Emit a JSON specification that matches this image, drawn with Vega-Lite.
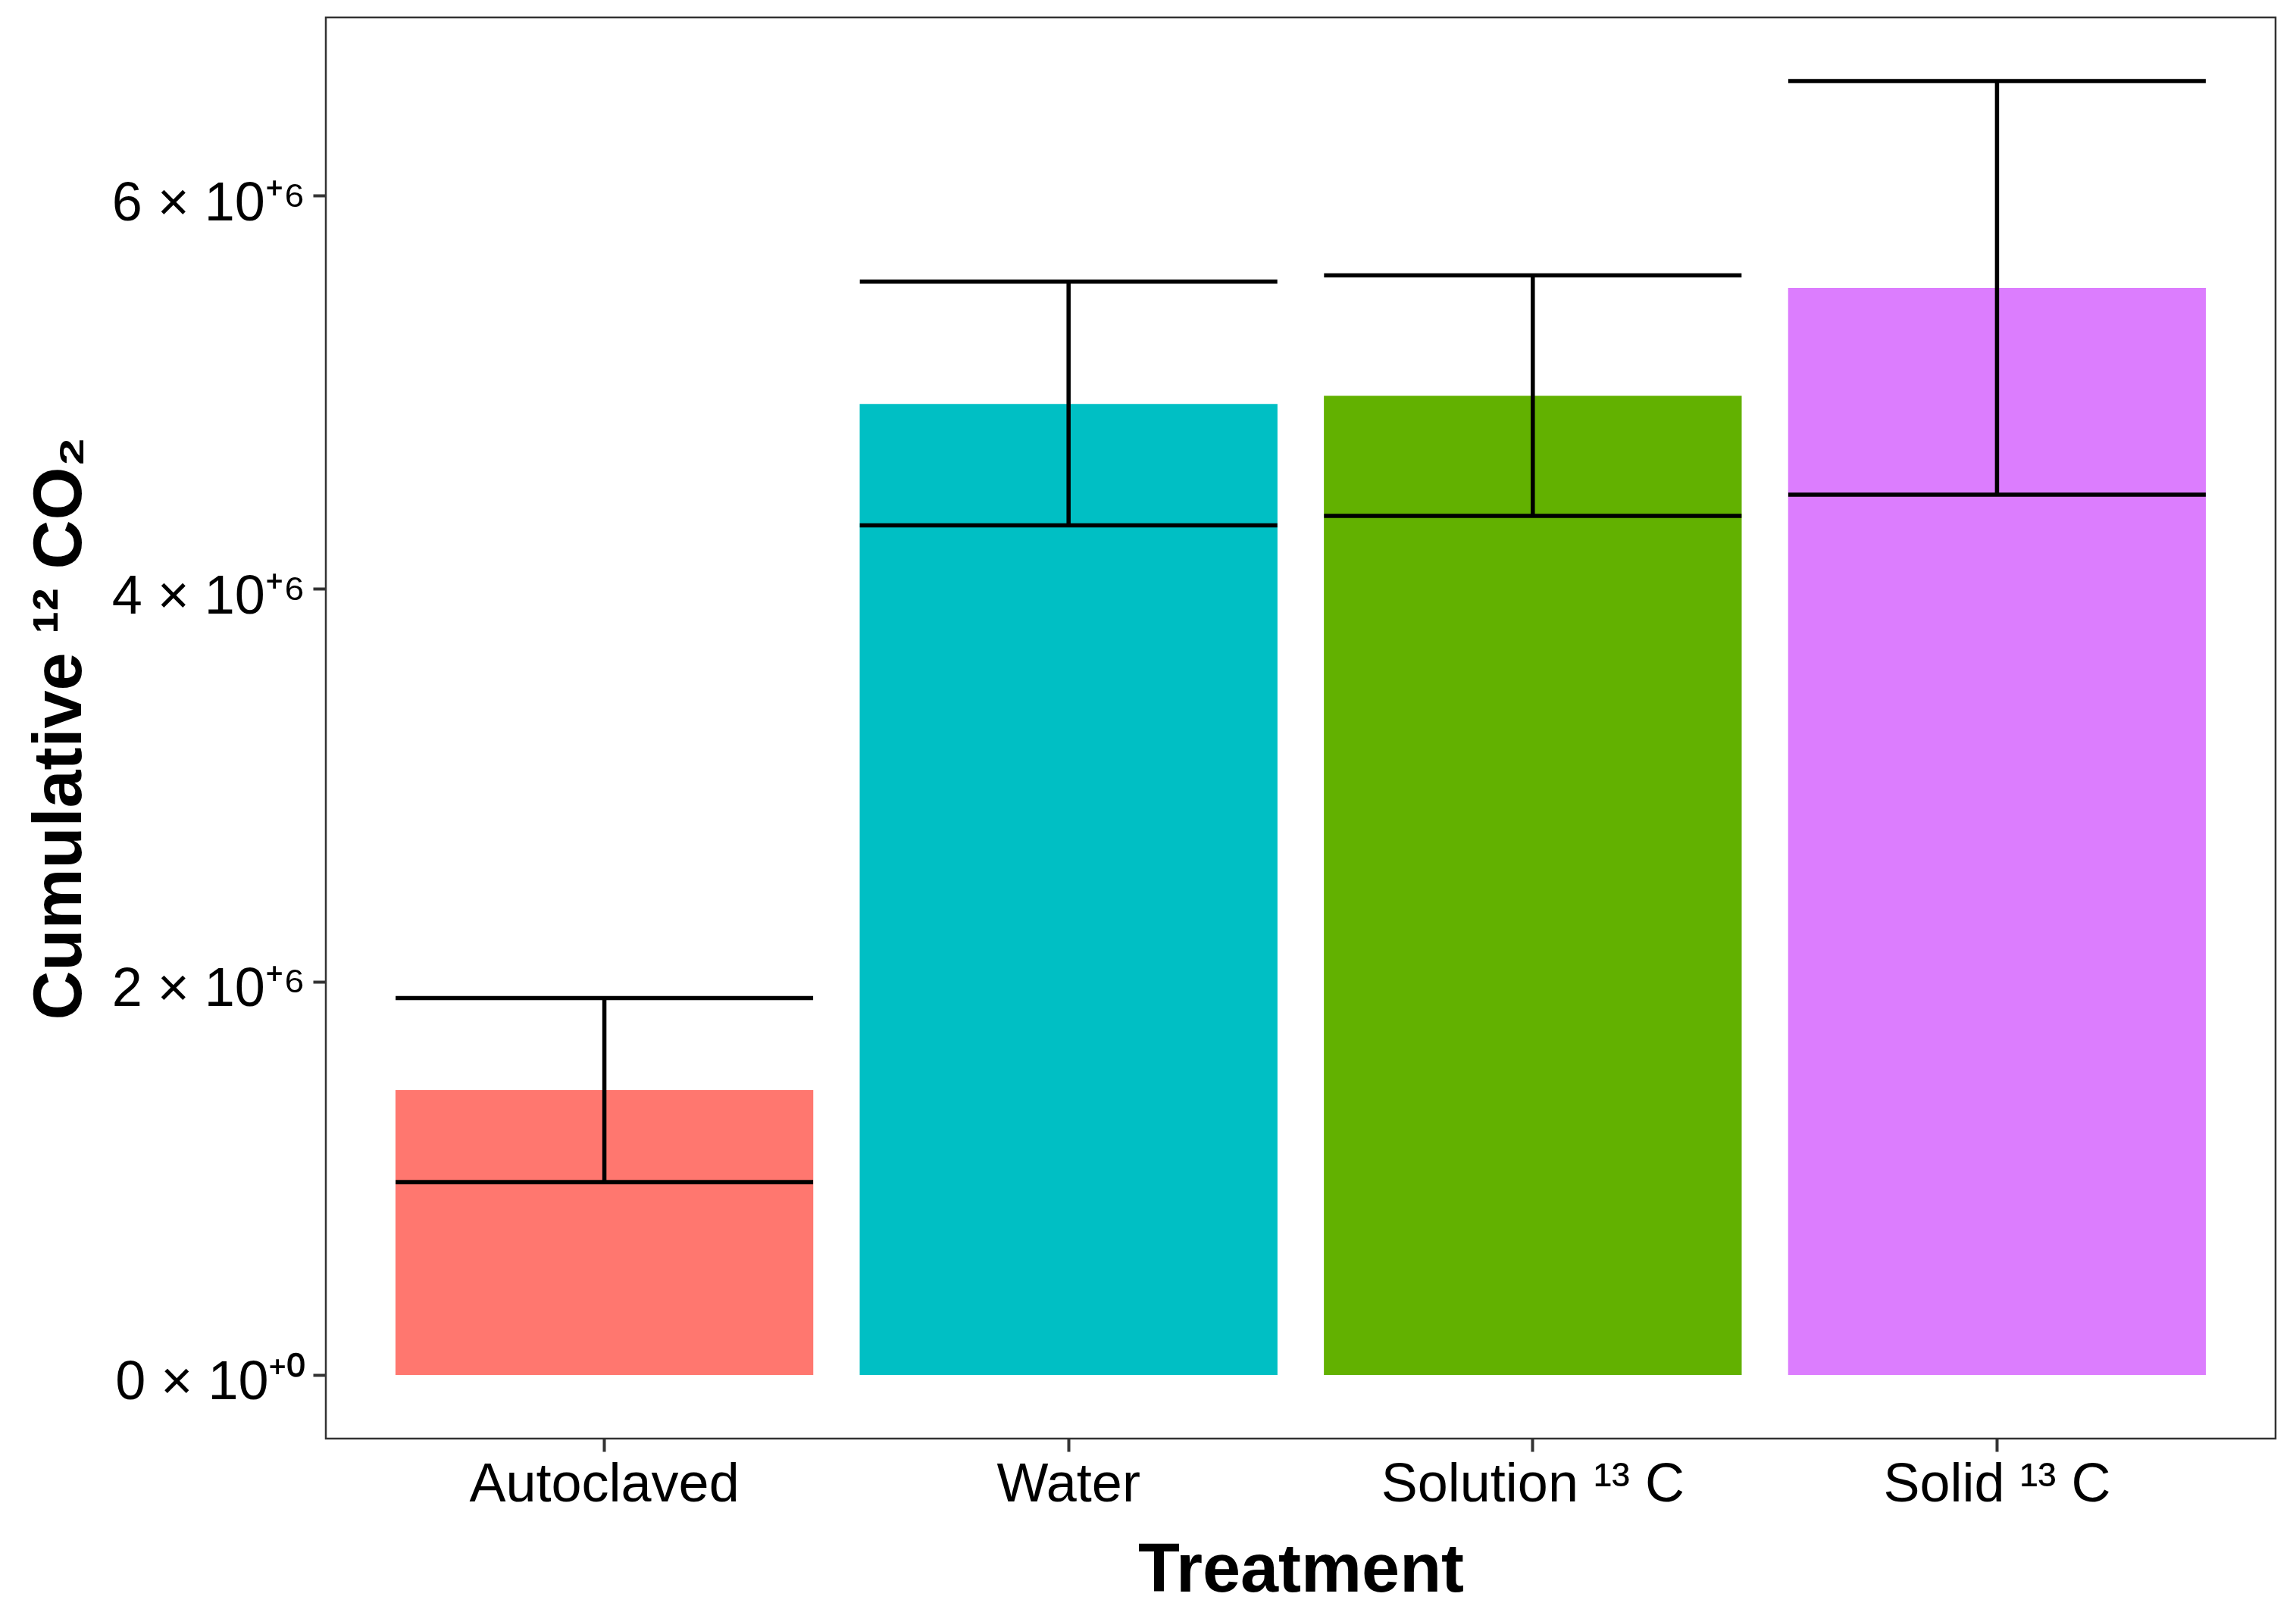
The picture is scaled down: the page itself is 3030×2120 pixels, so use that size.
{
  "$schema": "https://vega.github.io/schema/vega-lite/v6.json",
  "autosize": "none",
  "padding": {"left": 430, "top": 23, "right": 27, "bottom": 221},
  "width": 2573,
  "height": 1876,
  "background": "white",
  "config": {
    "view": {"stroke": "#333333", "strokeWidth": 2.5},
    "axis": {
      "labelFont": "Liberation Sans",
      "titleFont": "Liberation Sans",
      "labelColor": "#000000",
      "titleColor": "#000000",
      "labelFontSize": 72,
      "titleFontSize": 90,
      "titleFontWeight": "bold",
      "tickColor": "#333333",
      "tickWidth": 4,
      "tickSize": 17,
      "labelLimit": 0,
      "grid": false,
      "domain": false
    }
  },
  "data": {
    "values": [
      {"treatment": "Autoclaved", "mean": 1449000, "lower": 981000, "upper": 1917000},
      {"treatment": "Water", "mean": 4940000, "lower": 4322000, "upper": 5562000},
      {"treatment": "Solution ¹³ C", "mean": 4981000, "lower": 4370000, "upper": 5594000},
      {"treatment": "Solid ¹³ C", "mean": 5530000, "lower": 4478000, "upper": 6582000}
    ]
  },
  "encoding": {
    "x": {
      "field": "treatment",
      "type": "nominal",
      "sort": null,
      "scale": {"paddingInner": 0.1, "paddingOuter": 0.15},
      "axis": {
        "title": "Treatment",
        "labelAngle": 0,
        "labelPadding": 8,
        "labelLimit": 0,
        "titleBaseline": "alphabetic",
        "titleY": 201
      }
    }
  },
  "layer": [
    {
      "mark": {"type": "bar"},
      "encoding": {
        "y": {
          "field": "mean",
          "type": "quantitative",
          "scale": {"domain": [-324000, 6906000], "nice": false, "zero": false},
          "axis": {
            "title": "Cumulative ¹² CO₂",
            "values": [0, 2000000, 4000000, 6000000],
            "labelExpr": "datum.value == 0 ? '0 × 10⁺⁰' : (datum.value / 1000000) + ' × 10⁺⁶'",
            "labelPadding": 10,
            "labelOffset": 10,
            "labelLimit": 0,
            "titleBaseline": "alphabetic",
            "titleX": -324,
            "titleAngle": -90
          }
        },
        "color": {
          "field": "treatment",
          "type": "nominal",
          "sort": null,
          "scale": {"range": ["#FF776F", "#00BFC4", "#62B100", "#DC7DFE"]},
          "legend": null
        }
      }
    },
    {
      "mark": {"type": "rule", "color": "black", "strokeWidth": 5.5, "opacity": 1},
      "encoding": {
        "y": {"field": "lower", "type": "quantitative"},
        "y2": {"field": "upper"}
      }
    },
    {
      "mark": {"type": "tick", "color": "black", "orient": "horizontal", "size": 551, "thickness": 5.5, "opacity": 1},
      "encoding": {
        "y": {"field": "lower", "type": "quantitative"}
      }
    },
    {
      "mark": {"type": "tick", "color": "black", "orient": "horizontal", "size": 551, "thickness": 5.5, "opacity": 1},
      "encoding": {
        "y": {"field": "upper", "type": "quantitative"}
      }
    }
  ]
}
